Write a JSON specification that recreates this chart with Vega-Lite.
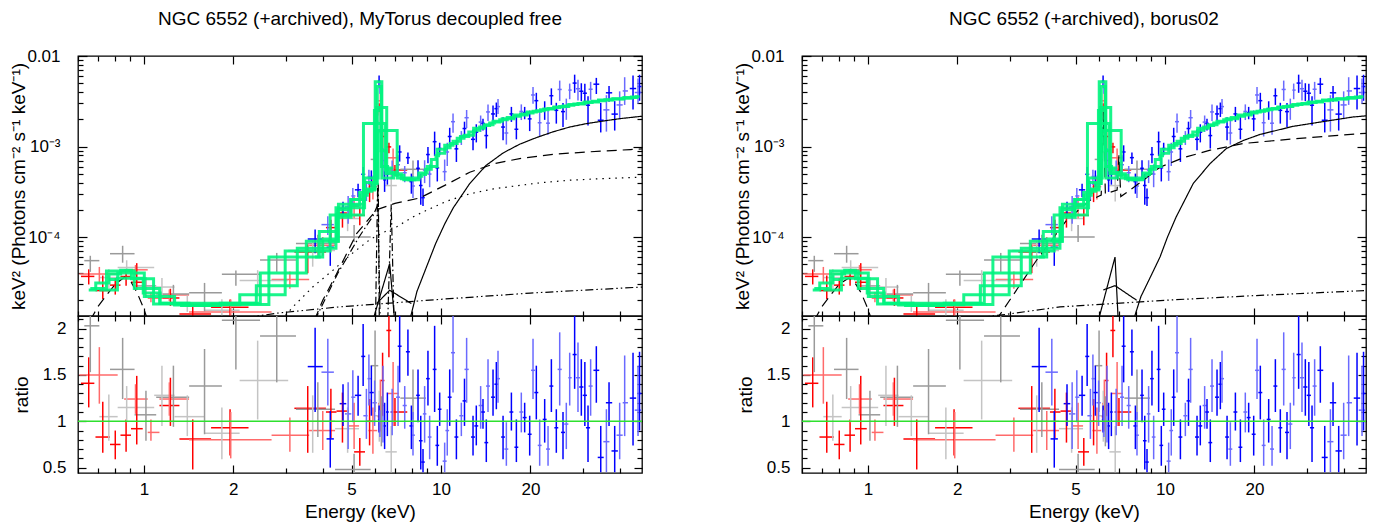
{
  "$schema": "https://vega.github.io/schema/vega-lite/v6.json",
  "autosize": {"type": "none"},
  "padding": {"left": 78, "top": 56, "right": 1298, "bottom": 471},
  "background": "white",
  "config": {
    "view": {"stroke": "#000", "strokeWidth": 1.3},
    "axis": {"grid": false, "domain": false, "tickColor": "#000", "tickWidth": 1.2, "labelFont": "Liberation Sans", "labelFontSize": 17, "labelColor": "#000", "titleFont": "Liberation Sans", "titleFontSize": 19, "titleFontWeight": "normal", "titleColor": "#000"},
    "title": {"font": "Liberation Sans", "fontSize": 19, "fontWeight": "normal", "color": "#000"}
  },
  "datasets": {
    "pts": [
      {"s":"R1","e":0.652,"el":0.614,"eh":0.681,"f":3.67e-5,"fl":2.99e-5,"fh":4.39e-5,"r":1.41,"rl":1.15,"rh":1.69,"m":2.6e-5},
      {"s":"R1","e":0.727,"el":0.687,"eh":0.769,"f":2.56e-5,"fl":2.06e-5,"fh":3.75e-5,"r":0.83,"rl":0.66,"rh":1.21,"m":3.1e-5},
      {"s":"R1","e":0.801,"el":0.769,"eh":0.834,"f":2.94e-5,"fl":2.31e-5,"fh":3.5e-5,"r":0.75,"rl":0.59,"rh":0.9,"m":3.9e-5},
      {"s":"R1","e":0.871,"el":0.834,"eh":0.905,"f":3.66e-5,"fl":2.89e-5,"fh":4.4e-5,"r":0.85,"rl":0.67,"rh":1.02,"m":4.3e-5},
      {"s":"R1","e":0.946,"el":0.905,"eh":0.991,"f":3.16e-5,"fl":2.6e-5,"fh":5.14e-5,"r":0.92,"rl":0.75,"rh":1.49,"m":3.45e-5},
      {"s":"R1","e":1.228,"el":1.128,"eh":1.317,"f":2.12e-5,"fl":1.73e-5,"fh":2.68e-5,"r":1.17,"rl":0.95,"rh":1.47,"m":1.82e-5},
      {"s":"R1","e":1.46,"el":1.317,"eh":1.683,"f":1.41e-5,"fl":8.5e-6,"fh":1.79e-5,"r":0.81,"rl":0.48,"rh":1.02,"m":1.75e-5},
      {"s":"R1","e":1.95,"el":1.683,"eh":2.25,"f":1.67e-5,"fl":1.13e-5,"fh":2.04e-5,"r":0.93,"rl":0.63,"rh":1.13,"m":1.8e-5},
      {"s":"R1","e":3.56,"el":3.21,"eh":4.1,"f":6.83e-5,"fl":3.98e-5,"fh":8.3e-5,"r":1.14,"rl":0.66,"rh":1.38,"m":6e-5},
      {"s":"R1","e":4.26,"el":4.1,"eh":4.45,"f":1.27e-4,"fl":9.4e-5,"fh":1.55e-4,"r":1.1,"rl":0.82,"rh":1.35,"m":1.15e-4},
      {"s":"R1","e":4.66,"el":4.45,"eh":4.9,"f":1.84e-4,"fl":1.27e-4,"fh":2.16e-4,"r":1.11,"rl":0.77,"rh":1.31,"m":1.65e-4},
      {"s":"R1","e":5.33,"el":5.1,"eh":5.55,"f":1.74e-4,"fl":1.35e-4,"fh":2.12e-4,"r":0.67,"rl":0.52,"rh":0.82,"m":2.6e-4},
      {"s":"R1","e":5.75,"el":5.6,"eh":5.9,"f":3.3e-4,"fl":2.43e-4,"fh":4.1e-4,"r":1.0,"rl":0.74,"rh":1.24,"m":3.3e-4},
      {"s":"R1","e":6.2,"el":6.12,"eh":6.28,"f":2.6e-3,"fl":2.2e-3,"fh":3.0e-3,"r":1.05,"rl":0.9,"rh":1.2,"m":2.5e-3},
      {"s":"R1","e":6.36,"el":6.28,"eh":6.45,"f":1.29e-3,"fl":9.5e-4,"fh":1.57e-3,"r":1.44,"rl":1.06,"rh":1.74,"m":9e-4},
      {"s":"R1","e":6.68,"el":6.55,"eh":6.8,"f":9.9e-4,"fl":8.4e-4,"fh":1.1e-3,"r":1.98,"rl":1.69,"rh":2.2,"m":5e-4},
      {"s":"R1","e":7.0,"el":6.8,"eh":7.7,"f":5.5e-4,"fl":4.75e-4,"fh":6.25e-4,"r":1.1,"rl":0.95,"rh":1.25,"m":5e-4},
      {"s":"R2","e":0.708,"el":0.606,"eh":0.816,"f":3.9e-5,"fl":3.08e-5,"fh":4.67e-5,"r":1.5,"rl":1.19,"rh":1.8,"m":2.6e-5},
      {"s":"R2","e":0.937,"el":0.858,"eh":1.03,"f":4.34e-5,"fl":3.78e-5,"fh":4.9e-5,"r":1.24,"rl":1.08,"rh":1.4,"m":3.5e-5},
      {"s":"R2","e":1.056,"el":1.03,"eh":1.128,"f":2.11e-5,"fl":1.9e-5,"fh":2.46e-5,"r":0.88,"rl":0.79,"rh":1.02,"m":2.4e-5},
      {"s":"R2","e":1.218,"el":1.128,"eh":1.419,"f":2.29e-5,"fl":1.96e-5,"fh":2.63e-5,"r":1.24,"rl":1.06,"rh":1.42,"m":1.85e-5},
      {"s":"R2","e":1.96,"el":1.419,"eh":2.69,"f":1.48e-5,"fl":1.11e-5,"fh":2.04e-5,"r":0.8,"rl":0.6,"rh":1.1,"m":1.85e-5},
      {"s":"R2","e":3.1,"el":2.69,"eh":3.6,"f":3.4e-5,"fl":2.68e-5,"fh":4.16e-5,"r":0.85,"rl":0.67,"rh":1.04,"m":4e-5},
      {"s":"R2","e":4.0,"el":3.6,"eh":4.4,"f":8.1e-5,"fl":6.2e-5,"fh":1.0e-4,"r":0.9,"rl":0.69,"rh":1.11,"m":9e-5},
      {"s":"R2","e":5.1,"el":4.9,"eh":5.3,"f":2.19e-4,"fl":1.61e-4,"fh":2.76e-4,"r":0.95,"rl":0.7,"rh":1.2,"m":2.3e-4},
      {"s":"R2","e":5.9,"el":5.7,"eh":6.1,"f":3.6e-4,"fl":2.6e-4,"fh":4.6e-4,"r":0.9,"rl":0.65,"rh":1.15,"m":4e-4},
      {"s":"R2","e":6.25,"el":6.15,"eh":6.35,"f":3.2e-3,"fl":2.4e-3,"fh":3.9e-3,"r":1.19,"rl":0.89,"rh":1.45,"m":2.7e-3},
      {"s":"R2","e":6.9,"el":6.6,"eh":7.2,"f":7.5e-4,"fl":5.5e-4,"fh":9.5e-4,"r":1.3,"rl":0.95,"rh":1.64,"m":5.8e-4},
      {"s":"G1","e":0.66,"el":0.63,"eh":0.708,"f":5.48e-5,"fl":4.12e-5,"fh":6.2e-5,"r":2.03,"rl":1.53,"rh":2.3,"m":2.7e-5},
      {"s":"G1","e":0.848,"el":0.769,"eh":0.93,"f":6.54e-5,"fl":5.2e-5,"fh":8.0e-5,"r":1.56,"rl":1.24,"rh":1.9,"m":4.2e-5},
      {"s":"G1","e":1.016,"el":0.93,"eh":1.1,"f":2.88e-5,"fl":2.13e-5,"fh":3.59e-5,"r":1.07,"rl":0.79,"rh":1.33,"m":2.7e-5},
      {"s":"G1","e":1.257,"el":1.1,"eh":1.42,"f":2.34e-5,"fl":1.74e-5,"fh":2.96e-5,"r":1.26,"rl":0.94,"rh":1.6,"m":1.85e-5},
      {"s":"G1","e":1.6,"el":1.42,"eh":1.83,"f":2.42e-5,"fl":1.51e-5,"fh":3.11e-5,"r":1.38,"rl":0.86,"rh":1.78,"m":1.75e-5},
      {"s":"G1","e":2.04,"el":1.83,"eh":2.46,"f":3.87e-5,"fl":2.89e-5,"fh":4.26e-5,"r":2.09,"rl":1.56,"rh":2.3,"m":1.85e-5},
      {"s":"G1","e":2.8,"el":2.46,"eh":3.25,"f":5.57e-5,"fl":4.12e-5,"fh":6.67e-5,"r":1.92,"rl":1.42,"rh":2.3,"m":2.9e-5},
      {"s":"G1","e":3.85,"el":3.25,"eh":4.4,"f":8.5e-5,"fl":6.2e-5,"fh":1.06e-4,"r":1.13,"rl":0.83,"rh":1.42,"m":7.5e-5},
      {"s":"G1","e":5.1,"el":4.4,"eh":5.8,"f":1.0e-4,"fl":8.8e-5,"fh":1.36e-4,"r":0.48,"rl":0.42,"rh":0.65,"m":2.1e-4},
      {"s":"G1","e":6.0,"el":5.8,"eh":6.15,"f":7.2e-4,"fl":4.9e-4,"fh":8.9e-4,"r":1.6,"rl":1.1,"rh":1.98,"m":4.5e-4},
      {"s":"G1","e":6.3,"el":6.15,"eh":6.5,"f":1.5e-3,"fl":1.1e-3,"fh":1.9e-3,"r":1.0,"rl":0.73,"rh":1.27,"m":1.5e-3},
      {"s":"G1","e":8.05,"el":7.3,"eh":8.9,"f":5.6e-4,"fl":4.6e-4,"fh":7.0e-4,"r":1.25,"rl":1.02,"rh":1.56,"m":4.5e-4},
      {"s":"G2","e":0.762,"el":0.708,"eh":0.816,"f":3.56e-5,"fl":2.69e-5,"fh":4.4e-5,"r":1.05,"rl":0.79,"rh":1.29,"m":3.4e-5},
      {"s":"G2","e":0.875,"el":0.816,"eh":1.083,"f":4.6e-5,"fl":3.95e-5,"fh":5.53e-5,"r":1.15,"rl":0.99,"rh":1.38,"m":4.0e-5},
      {"s":"G2","e":1.15,"el":1.083,"eh":1.268,"f":2.8e-5,"fl":2.09e-5,"fh":3.52e-5,"r":1.28,"rl":0.95,"rh":1.6,"m":2.2e-5},
      {"s":"G2","e":1.4,"el":1.268,"eh":1.6,"f":1.86e-5,"fl":1.49e-5,"fh":2.26e-5,"r":1.05,"rl":0.84,"rh":1.28,"m":1.77e-5},
      {"s":"G2","e":1.83,"el":1.6,"eh":2.1,"f":1.55e-5,"fl":1.05e-5,"fh":2.05e-5,"r":0.87,"rl":0.59,"rh":1.15,"m":1.78e-5},
      {"s":"G2","e":2.415,"el":2.1,"eh":3.06,"f":3.31e-5,"fl":2.35e-5,"fh":4.3e-5,"r":1.44,"rl":1.02,"rh":1.87,"m":2.3e-5},
      {"s":"G2","e":3.7,"el":3.06,"eh":4.4,"f":7.1e-5,"fl":4.7e-5,"fh":9.1e-5,"r":1.0,"rl":0.66,"rh":1.28,"m":7e-5},
      {"s":"G2","e":4.85,"el":4.4,"eh":5.3,"f":1.6e-4,"fl":1.16e-4,"fh":2.0e-4,"r":0.92,"rl":0.66,"rh":1.15,"m":1.75e-4},
      {"s":"G2","e":6.2,"el":6.0,"eh":6.4,"f":1.9e-3,"fl":1.4e-3,"fh":2.4e-3,"r":1.06,"rl":0.78,"rh":1.33,"m":1.8e-3},
      {"s":"G2","e":6.8,"el":6.5,"eh":7.1,"f":3.7e-4,"fl":2.46e-4,"fh":5.2e-4,"r":0.67,"rl":0.45,"rh":0.95,"m":5.5e-4},
      {"s":"B1","e":3.77,"el":3.56,"eh":4.0,"f":9.5e-5,"fl":6.6e-5,"fh":1.21e-4,"r":1.59,"rl":1.1,"rh":2.01,"m":6e-5},
      {"s":"B1","e":4.24,"el":4.12,"eh":4.36,"f":7.7e-5,"fl":4.8e-5,"fh":1.06e-4,"r":0.81,"rl":0.5,"rh":1.11,"m":9.5e-5},
      {"s":"B1","e":4.68,"el":4.56,"eh":4.8,"f":2.07e-4,"fl":1.66e-4,"fh":2.45e-4,"r":1.19,"rl":0.95,"rh":1.4,"m":1.75e-4},
      {"s":"B1","e":5.26,"el":5.13,"eh":5.39,"f":3.32e-4,"fl":2.75e-4,"fh":3.88e-4,"r":1.28,"rl":1.06,"rh":1.49,"m":2.6e-4},
      {"s":"B1","e":5.47,"el":5.39,"eh":5.56,"f":4.93e-4,"fl":4.01e-4,"fh":5.94e-4,"r":1.7,"rl":1.38,"rh":2.05,"m":2.9e-4},
      {"s":"B1","e":5.83,"el":5.72,"eh":5.94,"f":4.46e-4,"fl":3.6e-4,"fh":5.44e-4,"r":1.31,"rl":1.06,"rh":1.6,"m":3.4e-4},
      {"s":"B1","e":6.19,"el":6.13,"eh":6.25,"f":5.3e-3,"fl":4.58e-3,"fh":6.08e-3,"r":1.02,"rl":0.88,"rh":1.17,"m":5.2e-3},
      {"s":"B1","e":6.46,"el":6.39,"eh":6.53,"f":4.28e-4,"fl":3.15e-4,"fh":5.41e-4,"r":0.95,"rl":0.7,"rh":1.2,"m":4.5e-4},
      {"s":"B1","e":6.6,"el":6.53,"eh":6.67,"f":4.93e-4,"fl":3.79e-4,"fh":5.9e-4,"r":1.1,"rl":0.84,"rh":1.31,"m":4.5e-4},
      {"s":"B1","e":7.26,"el":7.15,"eh":7.37,"f":8.7e-4,"fl":6.81e-4,"fh":1.03e-3,"r":1.81,"rl":1.42,"rh":2.14,"m":4.8e-4},
      {"s":"B1","e":7.74,"el":7.62,"eh":7.86,"f":7.53e-4,"fl":6.41e-4,"fh":8.57e-4,"r":1.75,"rl":1.49,"rh":1.99,"m":4.3e-4},
      {"s":"B1","e":7.95,"el":7.83,"eh":8.07,"f":4.09e-4,"fl":3.01e-4,"fh":5.02e-4,"r":0.95,"rl":0.7,"rh":1.17,"m":4.3e-4},
      {"s":"B1","e":8.37,"el":8.25,"eh":8.49,"f":5.74e-4,"fl":4.44e-4,"fh":7.03e-4,"r":1.28,"rl":0.99,"rh":1.56,"m":4.5e-4},
      {"s":"B1","e":8.55,"el":8.43,"eh":8.67,"f":3.71e-4,"fl":2.27e-4,"fh":4.98e-4,"r":0.79,"rl":0.48,"rh":1.06,"m":4.7e-4},
      {"s":"B1","e":8.7,"el":8.58,"eh":8.82,"f":2.72e-4,"fl":2.2e-4,"fh":3.43e-4,"r":0.56,"rl":0.45,"rh":0.7,"m":4.9e-4},
      {"s":"B1","e":9.04,"el":8.91,"eh":9.17,"f":8.15e-4,"fl":6.54e-4,"fh":9.86e-4,"r":1.46,"rl":1.17,"rh":1.76,"m":5.6e-4},
      {"s":"B1","e":9.52,"el":9.38,"eh":9.66,"f":1.13e-3,"fl":7.88e-4,"fh":1.46e-3,"r":1.56,"rl":1.1,"rh":2.03,"m":7.2e-4},
      {"s":"B1","e":9.72,"el":9.58,"eh":9.86,"f":5.81e-4,"fl":4.11e-4,"fh":7.51e-4,"r":0.74,"rl":0.52,"rh":0.95,"m":7.9e-4},
      {"s":"B1","e":9.9,"el":9.76,"eh":10.04,"f":9.5e-4,"fl":7.99e-4,"fh":1.1e-3,"r":1.13,"rl":0.95,"rh":1.31,"m":8.4e-4},
      {"s":"B1","e":10.7,"el":10.54,"eh":10.86,"f":1.29e-3,"fl":9.8e-4,"fh":1.61e-3,"r":1.26,"rl":0.95,"rh":1.56,"m":1.03e-3},
      {"s":"B1","e":11.27,"el":11.1,"eh":11.44,"f":9.42e-4,"fl":6.75e-4,"fh":1.17e-3,"r":0.83,"rl":0.59,"rh":1.02,"m":1.14e-3},
      {"s":"B1","e":12.0,"el":11.82,"eh":12.18,"f":1.58e-3,"fl":1.23e-3,"fh":1.88e-3,"r":1.22,"rl":0.95,"rh":1.46,"m":1.29e-3},
      {"s":"B1","e":12.82,"el":12.62,"eh":13.02,"f":1.2e-3,"fl":9.1e-4,"fh":1.54e-3,"r":0.83,"rl":0.63,"rh":1.06,"m":1.45e-3},
      {"s":"B1","e":13.15,"el":12.95,"eh":13.35,"f":1.44e-3,"fl":1.11e-3,"fh":1.76e-3,"r":0.95,"rl":0.74,"rh":1.17,"m":1.51e-3},
      {"s":"B1","e":13.85,"el":13.64,"eh":14.06,"f":1.8e-3,"fl":1.5e-3,"fh":2.03e-3,"r":1.1,"rl":0.92,"rh":1.24,"m":1.64e-3},
      {"s":"B1","e":14.21,"el":14.0,"eh":14.42,"f":1.32e-3,"fl":9.5e-4,"fh":1.75e-3,"r":0.77,"rl":0.56,"rh":1.02,"m":1.71e-3},
      {"s":"B1","e":14.97,"el":14.74,"eh":15.2,"f":2.29e-3,"fl":1.93e-3,"fh":2.84e-3,"r":1.26,"rl":1.06,"rh":1.56,"m":1.82e-3},
      {"s":"B1","e":15.36,"el":15.13,"eh":15.59,"f":2.62e-3,"fl":2.12e-3,"fh":3.06e-3,"r":1.4,"rl":1.13,"rh":1.64,"m":1.87e-3},
      {"s":"B1","e":16.18,"el":15.94,"eh":16.42,"f":1.64e-3,"fl":1.17e-3,"fh":2.1e-3,"r":0.83,"rl":0.59,"rh":1.06,"m":1.98e-3},
      {"s":"B1","e":17.26,"el":17.0,"eh":17.52,"f":2.29e-3,"fl":1.87e-3,"fh":2.74e-3,"r":1.1,"rl":0.9,"rh":1.31,"m":2.09e-3},
      {"s":"B1","e":17.94,"el":17.67,"eh":18.21,"f":1.55e-3,"fl":1.2e-3,"fh":2.21e-3,"r":0.72,"rl":0.56,"rh":1.02,"m":2.16e-3},
      {"s":"B1","e":19.13,"el":18.84,"eh":19.42,"f":2.37e-3,"fl":2.0e-3,"fh":2.74e-3,"r":1.04,"rl":0.88,"rh":1.2,"m":2.28e-3},
      {"s":"B1","e":19.89,"el":19.59,"eh":20.19,"f":2.02e-3,"fl":1.48e-3,"fh":2.49e-3,"r":0.86,"rl":0.63,"rh":1.06,"m":2.35e-3},
      {"s":"B1","e":20.94,"el":20.62,"eh":21.26,"f":3.21e-3,"fl":2.51e-3,"fh":3.92e-3,"r":1.31,"rl":1.02,"rh":1.6,"m":2.45e-3},
      {"s":"B1","e":22.34,"el":22.0,"eh":22.68,"f":2.61e-3,"fl":1.97e-3,"fh":3.16e-3,"r":1.02,"rl":0.77,"rh":1.24,"m":2.55e-3},
      {"s":"B1","e":23.53,"el":23.17,"eh":23.89,"f":3.64e-3,"fl":2.88e-3,"fh":4.39e-3,"r":1.38,"rl":1.1,"rh":1.67,"m":2.63e-3},
      {"s":"B1","e":24.45,"el":24.08,"eh":24.82,"f":2.51e-3,"fl":1.79e-3,"fh":3.04e-3,"r":0.93,"rl":0.66,"rh":1.13,"m":2.69e-3},
      {"s":"B1","e":25.75,"el":25.35,"eh":26.15,"f":2.43e-3,"fl":1.64e-3,"fh":3.03e-3,"r":0.88,"rl":0.59,"rh":1.1,"m":2.77e-3},
      {"s":"B1","e":28.18,"el":27.74,"eh":28.62,"f":5.02e-3,"fl":3.92e-3,"fh":6.22e-3,"r":1.72,"rl":1.35,"rh":2.14,"m":2.91e-3},
      {"s":"B1","e":29.68,"el":29.2,"eh":30.16,"f":4.08e-3,"fl":3.17e-3,"fh":5.0e-3,"r":1.37,"rl":1.06,"rh":1.67,"m":2.99e-3},
      {"s":"B1","e":30.5,"el":30.0,"eh":31.0,"f":3.88e-3,"fl":2.88e-3,"fh":4.95e-3,"r":1.28,"rl":0.95,"rh":1.64,"m":3.03e-3},
      {"s":"B1","e":31.26,"el":30.76,"eh":31.76,"f":2.86e-3,"fl":1.71e-3,"fh":3.58e-3,"r":0.93,"rl":0.56,"rh":1.17,"m":3.07e-3},
      {"s":"B1","e":33.34,"el":32.6,"eh":34.1,"f":4.88e-3,"fl":3.8e-3,"fh":5.73e-3,"r":1.55,"rl":1.2,"rh":1.81,"m":3.16e-3},
      {"s":"B1","e":34.5,"el":33.7,"eh":35.3,"f":1.95e-3,"fl":1.43e-3,"fh":3.04e-3,"r":0.61,"rl":0.45,"rh":0.95,"m":3.2e-3},
      {"s":"B1","e":36.79,"el":35.9,"eh":37.7,"f":3.92e-3,"fl":3.12e-3,"fh":4.65e-3,"r":1.2,"rl":0.95,"rh":1.42,"m":3.28e-3},
      {"s":"B1","e":38.44,"el":37.5,"eh":39.4,"f":2.28e-3,"fl":1.5e-3,"fh":3.18e-3,"r":0.68,"rl":0.45,"rh":0.95,"m":3.34e-3},
      {"s":"B1","e":44.31,"el":43.2,"eh":45.4,"f":4.37e-3,"fl":2.57e-3,"fh":6.08e-3,"r":1.25,"rl":0.74,"rh":1.74,"m":3.49e-3},
      {"s":"B1","e":46.6,"el":45.9,"eh":47.3,"f":4.6e-3,"fl":3.2e-3,"fh":6.2e-3,"r":1.3,"rl":0.9,"rh":1.75,"m":3.55e-3},
      {"s":"B2","e":4.16,"el":3.96,"eh":4.36,"f":1.37e-4,"fl":1.05e-4,"fh":1.7e-4,"r":1.53,"rl":1.17,"rh":1.89,"m":9e-5},
      {"s":"B2","e":4.87,"el":4.75,"eh":4.99,"f":2.15e-4,"fl":1.4e-4,"fh":2.84e-4,"r":1.08,"rl":0.7,"rh":1.42,"m":2.0e-4},
      {"s":"B2","e":5.05,"el":4.99,"eh":5.15,"f":2.84e-4,"fl":2.22e-4,"fh":3.48e-4,"r":1.26,"rl":0.99,"rh":1.55,"m":2.25e-4},
      {"s":"B2","e":5.61,"el":5.48,"eh":5.66,"f":3.28e-4,"fl":2.5e-4,"fh":4.18e-4,"r":1.06,"rl":0.81,"rh":1.35,"m":3.1e-4},
      {"s":"B2","e":5.72,"el":5.66,"eh":5.8,"f":4.66e-4,"fl":3.73e-4,"fh":5.52e-4,"r":1.46,"rl":1.17,"rh":1.72,"m":3.2e-4},
      {"s":"B2","e":5.98,"el":5.88,"eh":6.08,"f":4.69e-4,"fl":3.71e-4,"fh":5.6e-4,"r":1.2,"rl":0.95,"rh":1.44,"m":3.9e-4},
      {"s":"B2","e":6.23,"el":6.17,"eh":6.29,"f":4.46e-3,"fl":3.82e-3,"fh":5.15e-3,"r":0.97,"rl":0.83,"rh":1.12,"m":4.6e-3},
      {"s":"B2","e":6.38,"el":6.31,"eh":6.45,"f":7.0e-4,"fl":4.63e-4,"fh":9.6e-4,"r":1.17,"rl":0.77,"rh":1.6,"m":6e-4},
      {"s":"B2","e":6.85,"el":6.75,"eh":6.95,"f":5.72e-4,"fl":4.42e-4,"fh":7.02e-4,"r":1.1,"rl":0.85,"rh":1.35,"m":5.2e-4},
      {"s":"B2","e":7.17,"el":7.06,"eh":7.28,"f":6.29e-4,"fl":4.76e-4,"fh":8.0e-4,"r":1.26,"rl":0.95,"rh":1.6,"m":5.0e-4},
      {"s":"B2","e":7.55,"el":7.43,"eh":7.67,"f":5.13e-4,"fl":4.03e-4,"fh":6.09e-4,"r":1.17,"rl":0.92,"rh":1.38,"m":4.4e-4},
      {"s":"B2","e":8.05,"el":7.93,"eh":8.17,"f":3.66e-4,"fl":2.7e-4,"fh":4.71e-4,"r":0.85,"rl":0.63,"rh":1.1,"m":4.3e-4},
      {"s":"B2","e":8.81,"el":8.69,"eh":8.93,"f":5.49e-4,"fl":3.94e-4,"fh":7.05e-4,"r":1.08,"rl":0.77,"rh":1.38,"m":5.1e-4},
      {"s":"B2","e":9.16,"el":9.03,"eh":9.29,"f":4.96e-4,"fl":3.55e-4,"fh":6.35e-4,"r":0.83,"rl":0.59,"rh":1.06,"m":6.0e-4},
      {"s":"B2","e":10.29,"el":10.13,"eh":10.45,"f":5.27e-4,"fl":4.17e-4,"fh":7.18e-4,"r":0.57,"rl":0.45,"rh":0.77,"m":9.3e-4},
      {"s":"B2","e":10.5,"el":10.35,"eh":10.65,"f":8.7e-4,"fl":6.09e-4,"fh":1.1e-3,"r":0.9,"rl":0.63,"rh":1.13,"m":9.7e-4},
      {"s":"B2","e":10.98,"el":10.81,"eh":11.15,"f":1.88e-3,"fl":1.42e-3,"fh":2.31e-3,"r":1.74,"rl":1.31,"rh":2.14,"m":1.08e-3},
      {"s":"B2","e":11.71,"el":11.53,"eh":11.89,"f":1.3e-3,"fl":1.04e-3,"fh":1.48e-3,"r":1.06,"rl":0.84,"rh":1.2,"m":1.23e-3},
      {"s":"B2","e":12.2,"el":12.0,"eh":12.4,"f":2.08e-3,"fl":1.6e-3,"fh":2.53e-3,"r":1.56,"rl":1.2,"rh":1.9,"m":1.33e-3},
      {"s":"B2","e":13.6,"el":13.39,"eh":13.81,"f":1.86e-3,"fl":1.45e-3,"fh":2.2e-3,"r":1.17,"rl":0.92,"rh":1.38,"m":1.59e-3},
      {"s":"B2","e":14.4,"el":14.18,"eh":14.62,"f":2.41e-3,"fl":1.91e-3,"fh":2.91e-3,"r":1.38,"rl":1.1,"rh":1.67,"m":1.74e-3},
      {"s":"B2","e":15.56,"el":15.32,"eh":15.8,"f":2.76e-3,"fl":2.29e-3,"fh":3.34e-3,"r":1.46,"rl":1.2,"rh":1.76,"m":1.9e-3},
      {"s":"B2","e":16.6,"el":16.35,"eh":16.85,"f":1.41e-3,"fl":1.05e-3,"fh":1.99e-3,"r":0.7,"rl":0.52,"rh":0.99,"m":2.02e-3},
      {"s":"B2","e":18.64,"el":18.36,"eh":18.92,"f":2.44e-3,"fl":1.96e-3,"fh":2.92e-3,"r":1.1,"rl":0.88,"rh":1.31,"m":2.23e-3},
      {"s":"B2","e":20.41,"el":20.1,"eh":20.72,"f":3.71e-3,"fl":2.97e-3,"fh":4.53e-3,"r":1.55,"rl":1.24,"rh":1.89,"m":2.4e-3},
      {"s":"B2","e":21.49,"el":21.17,"eh":21.81,"f":1.83e-3,"fl":1.29e-3,"fh":2.55e-3,"r":0.74,"rl":0.52,"rh":1.02,"m":2.49e-3},
      {"s":"B2","e":22.93,"el":22.58,"eh":23.28,"f":1.81e-3,"fl":1.35e-3,"fh":2.46e-3,"r":0.7,"rl":0.52,"rh":0.95,"m":2.59e-3},
      {"s":"B2","e":25.1,"el":24.7,"eh":25.5,"f":4.27e-3,"fl":3.19e-3,"fh":5.35e-3,"r":1.56,"rl":1.17,"rh":1.96,"m":2.73e-3},
      {"s":"B2","e":26.42,"el":26.0,"eh":26.84,"f":2.72e-3,"fl":1.97e-3,"fh":3.38e-3,"r":0.97,"rl":0.7,"rh":1.2,"m":2.81e-3},
      {"s":"B2","e":27.12,"el":26.84,"eh":27.54,"f":4.2e-3,"fl":3.33e-3,"fh":4.96e-3,"r":1.47,"rl":1.17,"rh":1.74,"m":2.85e-3},
      {"s":"B2","e":28.92,"el":28.47,"eh":29.37,"f":4.35e-3,"fl":3.23e-3,"fh":5.46e-3,"r":1.47,"rl":1.1,"rh":1.85,"m":2.95e-3},
      {"s":"B2","e":31.9,"el":31.4,"eh":32.4,"f":4.29e-3,"fl":3.28e-3,"fh":5.18e-3,"r":1.38,"rl":1.06,"rh":1.67,"m":3.1e-3},
      {"s":"B2","e":36.05,"el":35.2,"eh":36.9,"f":2.54e-3,"fl":1.46e-3,"fh":3.69e-3,"r":0.78,"rl":0.45,"rh":1.13,"m":3.26e-3},
      {"s":"B2","e":39.95,"el":39.0,"eh":40.9,"f":2.88e-3,"fl":2.0e-3,"fh":4.07e-3,"r":0.85,"rl":0.59,"rh":1.2,"m":3.38e-3},
      {"s":"B2","e":41.53,"el":40.9,"eh":42.6,"f":4.11e-3,"fl":2.88e-3,"fh":5.83e-3,"r":1.2,"rl":0.84,"rh":1.71,"m":3.42e-3},
      {"s":"B2","e":46.06,"el":44.9,"eh":47.3,"f":3.95e-3,"fl":2.98e-3,"fh":5.64e-3,"r":1.12,"rl":0.84,"rh":1.6,"m":3.53e-3}
    ],
    "comp": [
      {"p":"L","c":"soft","st":"dash","e":0.66,"v":1.2e-5},{"p":"L","c":"soft","st":"dash","e":0.7,"v":1.7e-5},{"p":"L","c":"soft","st":"dash","e":0.75,"v":2.3e-5},{"p":"L","c":"soft","st":"dash","e":0.8,"v":3.0e-5},{"p":"L","c":"soft","st":"dash","e":0.86,"v":3.6e-5},{"p":"L","c":"soft","st":"dash","e":0.9,"v":3.3e-5},{"p":"L","c":"soft","st":"dash","e":0.95,"v":2.4e-5},{"p":"L","c":"soft","st":"dash","e":1.0,"v":1.6e-5},{"p":"L","c":"soft","st":"dash","e":1.03,"v":1.2e-5},
      {"p":"L","c":"scat","st":"dash","e":3.75,"v":1.2e-5},{"p":"L","c":"scat","st":"dash","e":4.0,"v":2.0e-5},{"p":"L","c":"scat","st":"dash","e":4.45,"v":3.9e-5},{"p":"L","c":"scat","st":"dash","e":5.2,"v":1.09e-4},{"p":"L","c":"scat","st":"dash","e":6.07,"v":2.0e-4},{"p":"L","c":"scat","st":"dash","e":7.0,"v":2.35e-4},{"p":"L","c":"scat","st":"dash","e":8.48,"v":2.7e-4},{"p":"L","c":"scat","st":"dash","e":10.3,"v":3.72e-4},{"p":"L","c":"scat","st":"dash","e":12.5,"v":5.2e-4},{"p":"L","c":"scat","st":"dash","e":15.2,"v":6.5e-4},{"p":"L","c":"scat","st":"dash","e":18.4,"v":7.35e-4},{"p":"L","c":"scat","st":"dash","e":23.8,"v":8.2e-4},{"p":"L","c":"scat","st":"dash","e":30.9,"v":8.7e-4},{"p":"L","c":"scat","st":"dash","e":43.4,"v":9.25e-4},{"p":"L","c":"scat","st":"dash","e":47.5,"v":9.4e-4},
      {"p":"L","c":"dot","st":"dot","e":2.9,"v":1.2e-5},{"p":"L","c":"dot","st":"dot","e":3.18,"v":1.7e-5},{"p":"L","c":"dot","st":"dot","e":3.7,"v":2.8e-5},{"p":"L","c":"dot","st":"dot","e":4.33,"v":4.3e-5},{"p":"L","c":"dot","st":"dot","e":5.0,"v":6.5e-5},{"p":"L","c":"dot","st":"dot","e":5.8,"v":9.5e-5},{"p":"L","c":"dot","st":"dot","e":6.5,"v":1.15e-4},{"p":"L","c":"dot","st":"dot","e":7.08,"v":1.29e-4},{"p":"L","c":"dot","st":"dot","e":8.0,"v":1.65e-4},{"p":"L","c":"dot","st":"dot","e":8.93,"v":1.97e-4},{"p":"L","c":"dot","st":"dot","e":10.5,"v":2.5e-4},{"p":"L","c":"dot","st":"dot","e":12.5,"v":3.0e-4},{"p":"L","c":"dot","st":"dot","e":15,"v":3.4e-4},{"p":"L","c":"dot","st":"dot","e":18.4,"v":3.72e-4},{"p":"L","c":"dot","st":"dot","e":22,"v":4.0e-4},{"p":"L","c":"dot","st":"dot","e":27.1,"v":4.24e-4},{"p":"L","c":"dot","st":"dot","e":35,"v":4.42e-4},{"p":"L","c":"dot","st":"dot","e":47.5,"v":4.58e-4},
      {"p":"L","c":"trans","st":"solid","e":7.85,"v":1.2e-5},{"p":"L","c":"trans","st":"solid","e":8.3,"v":2.5e-5},{"p":"L","c":"trans","st":"solid","e":8.9,"v":4.5e-5},{"p":"L","c":"trans","st":"solid","e":9.6,"v":8.5e-5},{"p":"L","c":"trans","st":"solid","e":10.3,"v":1.4e-4},{"p":"L","c":"trans","st":"solid","e":11,"v":2.1e-4},{"p":"L","c":"trans","st":"solid","e":12.5,"v":3.9e-4},{"p":"L","c":"trans","st":"solid","e":14.2,"v":6.2e-4},{"p":"L","c":"trans","st":"solid","e":16.2,"v":8.5e-4},{"p":"L","c":"trans","st":"solid","e":18.4,"v":1.06e-3},{"p":"L","c":"trans","st":"solid","e":20.9,"v":1.25e-3},{"p":"L","c":"trans","st":"solid","e":23.8,"v":1.45e-3},{"p":"L","c":"trans","st":"solid","e":27.1,"v":1.64e-3},{"p":"L","c":"trans","st":"solid","e":30.9,"v":1.79e-3},{"p":"L","c":"trans","st":"solid","e":35.1,"v":1.91e-3},{"p":"L","c":"trans","st":"solid","e":40,"v":2.03e-3},{"p":"L","c":"trans","st":"solid","e":47.5,"v":2.16e-3},
      {"p":"L","c":"spl","st":"dashdotdot","e":1.9,"v":1.2e-5},{"p":"L","c":"spl","st":"dashdotdot","e":2.86,"v":1.45e-5},{"p":"L","c":"spl","st":"dashdotdot","e":4.55,"v":1.69e-5},{"p":"L","c":"spl","st":"dashdotdot","e":10,"v":2.05e-5},{"p":"L","c":"spl","st":"dashdotdot","e":20,"v":2.4e-5},{"p":"L","c":"spl","st":"dashdotdot","e":47.5,"v":2.8e-5},
      {"p":"L","c":"fe1","st":"dashdot","e":3.76,"v":1.2e-5},{"p":"L","c":"fe1","st":"dashdot","e":4.5,"v":4.0e-5},{"p":"L","c":"fe1","st":"dashdot","e":5.3,"v":1.0e-4},{"p":"L","c":"fe1","st":"dashdot","e":5.9,"v":1.7e-4},{"p":"L","c":"fe1","st":"dashdot","e":6.1,"v":2.2e-4},{"p":"L","c":"fe1","st":"dashdot","e":6.15,"v":4.0e-4},{"p":"L","c":"fe1","st":"dashdot","e":6.2,"v":1.2e-5},
      {"p":"L","c":"fe2","st":"dashdot","e":6.02,"v":1.2e-5},{"p":"L","c":"fe2","st":"dashdot","e":6.12,"v":3.6e-4},{"p":"L","c":"fe2","st":"dashdot","e":6.24,"v":1.2e-5},
      {"p":"L","c":"fe3","st":"dashdot","e":6.62,"v":1.2e-5},{"p":"L","c":"fe3","st":"dashdot","e":6.8,"v":2.3e-4},{"p":"L","c":"fe3","st":"dashdot","e":6.95,"v":1.2e-5},
      {"p":"L","c":"g1","st":"solid","e":5.9,"v":1.2e-5},{"p":"L","c":"g1","st":"solid","e":6.72,"v":5.1e-5},{"p":"L","c":"g1","st":"solid","e":6.98,"v":1.2e-5},
      {"p":"L","c":"g2","st":"solid","e":6.07,"v":1.84e-5},{"p":"L","c":"g2","st":"solid","e":6.72,"v":2.58e-5},{"p":"L","c":"g2","st":"solid","e":7.95,"v":1.84e-5},
      {"p":"R","c":"soft","st":"dash","e":0.66,"v":1.2e-5},{"p":"R","c":"soft","st":"dash","e":0.7,"v":1.7e-5},{"p":"R","c":"soft","st":"dash","e":0.75,"v":2.3e-5},{"p":"R","c":"soft","st":"dash","e":0.8,"v":3.0e-5},{"p":"R","c":"soft","st":"dash","e":0.86,"v":3.5e-5},{"p":"R","c":"soft","st":"dash","e":0.9,"v":3.2e-5},{"p":"R","c":"soft","st":"dash","e":0.95,"v":2.4e-5},{"p":"R","c":"soft","st":"dash","e":1.0,"v":1.6e-5},{"p":"R","c":"soft","st":"dash","e":1.03,"v":1.2e-5},
      {"p":"R","c":"refl","st":"dash","e":2.7,"v":1.2e-5},{"p":"R","c":"refl","st":"dash","e":3.0,"v":2.0e-5},{"p":"R","c":"refl","st":"dash","e":3.69,"v":5.5e-5},{"p":"R","c":"refl","st":"dash","e":4.67,"v":1.54e-4},{"p":"R","c":"refl","st":"dash","e":5.59,"v":2.54e-4},{"p":"R","c":"refl","st":"dash","e":6.1,"v":2.9e-4},{"p":"R","c":"refl","st":"dash","e":6.2,"v":2.4e-3},{"p":"R","c":"refl","st":"dash","e":6.3,"v":3.0e-4},{"p":"R","c":"refl","st":"dash","e":6.9,"v":3.3e-4},{"p":"R","c":"refl","st":"dash","e":7.0,"v":8e-4},{"p":"R","c":"refl","st":"dash","e":7.1,"v":2.8e-4},{"p":"R","c":"refl","st":"dash","e":7.43,"v":3.1e-4},{"p":"R","c":"refl","st":"dash","e":8.5,"v":4.3e-4},{"p":"R","c":"refl","st":"dash","e":9.62,"v":5.9e-4},{"p":"R","c":"refl","st":"dash","e":11.5,"v":7.5e-4},{"p":"R","c":"refl","st":"dash","e":14.2,"v":9.1e-4},{"p":"R","c":"refl","st":"dash","e":18.4,"v":1.08e-3},{"p":"R","c":"refl","st":"dash","e":23.8,"v":1.17e-3},{"p":"R","c":"refl","st":"dash","e":35,"v":1.3e-3},{"p":"R","c":"refl","st":"dash","e":47.5,"v":1.4e-3},
      {"p":"R","c":"trans","st":"solid","e":7.83,"v":1.2e-5},{"p":"R","c":"trans","st":"solid","e":8.3,"v":2.2e-5},{"p":"R","c":"trans","st":"solid","e":9.0,"v":3.8e-5},{"p":"R","c":"trans","st":"solid","e":9.62,"v":6.0e-5},{"p":"R","c":"trans","st":"solid","e":10.2,"v":1.0e-4},{"p":"R","c":"trans","st":"solid","e":10.9,"v":1.66e-4},{"p":"R","c":"trans","st":"solid","e":12.45,"v":3.9e-4},{"p":"R","c":"trans","st":"solid","e":14.2,"v":6.5e-4},{"p":"R","c":"trans","st":"solid","e":16.1,"v":9.5e-4},{"p":"R","c":"trans","st":"solid","e":18.4,"v":1.17e-3},{"p":"R","c":"trans","st":"solid","e":20.9,"v":1.36e-3},{"p":"R","c":"trans","st":"solid","e":27,"v":1.67e-3},{"p":"R","c":"trans","st":"solid","e":35,"v":1.91e-3},{"p":"R","c":"trans","st":"solid","e":43,"v":2.12e-3},{"p":"R","c":"trans","st":"solid","e":47.5,"v":2.18e-3},
      {"p":"R","c":"spl","st":"dashdotdot","e":2.0,"v":1.2e-5},{"p":"R","c":"spl","st":"dashdotdot","e":2.93,"v":1.4e-5},{"p":"R","c":"spl","st":"dashdotdot","e":4.43,"v":1.69e-5},{"p":"R","c":"spl","st":"dashdotdot","e":10,"v":2.0e-5},{"p":"R","c":"spl","st":"dashdotdot","e":20,"v":2.25e-5},{"p":"R","c":"spl","st":"dashdotdot","e":47.5,"v":2.56e-5},
      {"p":"R","c":"g1","st":"solid","e":5.97,"v":1.2e-5},{"p":"R","c":"g1","st":"solid","e":6.79,"v":6.0e-5},{"p":"R","c":"g1","st":"solid","e":6.96,"v":1.2e-5},
      {"p":"R","c":"g2","st":"solid","e":6.2,"v":2.6e-5},{"p":"R","c":"g2","st":"solid","e":6.79,"v":2.9e-5},{"p":"R","c":"g2","st":"solid","e":8.03,"v":2.0e-5}
    ],
    "one": [{"e":0.6,"r":1},{"e":47.5,"r":1}]
  },
  "columns": 2,
  "spacing": {"row": 0, "column": 160},
  "bounds": "flush",
  "concat": [
    {
      "title": {"text": "NGC 6552 (+archived), MyTorus decoupled free", "anchor": "middle", "frame": "group", "offset": 3, "baseline": "alphabetic", "fontSize": 19},
      "width": 564, "height": 260,
      "data": {"name": "pts"},
      "layer": [
        {"mark": {"type": "rule", "clip": true, "strokeWidth": 1.5},
         "encoding": {
           "x": {"field": "el", "type": "quantitative", "scale": {"type": "log", "domain": [0.6, 47.5], "nice": false}, "axis": {"orient": "bottom", "values": [1,2,5,10,20], "labels": false, "tickSize": -8, "title": null}},
           "x2": {"field": "eh"},
           "y": {"field": "f", "type": "quantitative", "scale": {"type": "log", "domain": [1.34e-5, 0.01], "nice": false}, "axis": {"orient": "left", "values": [0.0001, 0.001, 0.01], "tickSize": -9, "labelPadding": 27, "labelFlush": false, "labelOverlap": false, "labelExpr": "datum.value > 0.005 ? '0.01' : (datum.value > 0.0005 ? '10⁻³' : '10⁻⁴')", "title": "keV² (Photons cm⁻² s⁻¹ keV⁻¹)", "titleX": -54, "titleBaseline": "alphabetic"}},
           "color": {"field": "s", "type": "nominal", "scale": {"domain": ["R1","R2","G1","G2","B1","B2"], "range": ["#ff0000","#ff6a6a","#9a9a9a","#c4c4c4","#0000ff","#6a6aff"]}, "legend": null}
         }},
        {"mark": {"type": "rule", "clip": true, "strokeWidth": 1.5},
         "encoding": {
           "x": {"field": "e", "type": "quantitative", "axis": {"orient": "top", "values": [1,2,5,10,20], "labels": false, "tickSize": -8, "title": null}},
           "y": {"field": "fl", "type": "quantitative", "axis": {"orient": "right", "values": [0.0001, 0.001, 0.01], "labels": false, "tickSize": -9, "title": null}},
           "y2": {"field": "fh"},
           "color": {"field": "s", "type": "nominal", "legend": null}
         }},
        {"data": {"name": "comp"}, "transform": [{"filter": "datum.p == 'L'"}],
         "mark": {"type": "line", "clip": true, "strokeWidth": 1.2, "color": "#000"},
         "encoding": {
           "x": {"field": "e", "type": "quantitative", "axis": {"orient": "bottom", "values": [0.6,0.7,0.8,0.9,3,4,6,7,8,9,30,40], "labels": false, "tickSize": -5, "title": null}},
           "y": {"field": "v", "type": "quantitative", "axis": {"orient": "left", "values": [2e-5,3e-5,4e-5,5e-5,6e-5,7e-5,8e-5,9e-5,2e-4,3e-4,4e-4,5e-4,6e-4,7e-4,8e-4,9e-4,2e-3,3e-3,4e-3,5e-3,6e-3,7e-3,8e-3,9e-3], "labels": false, "tickSize": -5, "title": null}},
           "detail": {"field": "c"},
           "strokeDash": {"field": "st", "type": "nominal", "scale": {"domain": ["solid","dash","dot","dashdot","dashdotdot"], "range": [[1,0],[10,6],[1.5,5],[8,3,1.5,3],[8,3,1.5,3,1.5,3]]}, "legend": null}
         }},
        {"mark": {"type": "line", "clip": true, "interpolate": "step", "strokeWidth": 3, "color": "#00f47e", "opacity": 0.9},
         "encoding": {
           "x": {"field": "e", "type": "quantitative", "axis": {"orient": "top", "values": [0.6,0.7,0.8,0.9,3,4,6,7,8,9,30,40], "labels": false, "tickSize": -5, "title": null}},
           "y": {"field": "m", "type": "quantitative", "axis": {"orient": "right", "values": [2e-5,3e-5,4e-5,5e-5,6e-5,7e-5,8e-5,9e-5,2e-4,3e-4,4e-4,5e-4,6e-4,7e-4,8e-4,9e-4,2e-3,3e-3,4e-3,5e-3,6e-3,7e-3,8e-3,9e-3], "labels": false, "tickSize": -5, "title": null}},
           "detail": {"field": "s"}
         }}
      ],
      "resolve": {"axis": {"x": "independent", "y": "independent"}}
    },
    {
      "title": {"text": "NGC 6552 (+archived), borus02", "anchor": "middle", "frame": "group", "offset": 3, "baseline": "alphabetic", "fontSize": 19},
      "width": 564, "height": 260,
      "data": {"name": "pts"},
      "layer": [
        {"mark": {"type": "rule", "clip": true, "strokeWidth": 1.5},
         "encoding": {
           "x": {"field": "el", "type": "quantitative", "scale": {"type": "log", "domain": [0.6, 47.5], "nice": false}, "axis": {"orient": "bottom", "values": [1,2,5,10,20], "labels": false, "tickSize": -8, "title": null}},
           "x2": {"field": "eh"},
           "y": {"field": "f", "type": "quantitative", "scale": {"type": "log", "domain": [1.34e-5, 0.01], "nice": false}, "axis": {"orient": "left", "values": [0.0001, 0.001, 0.01], "tickSize": -9, "labelPadding": 27, "labelFlush": false, "labelOverlap": false, "labelExpr": "datum.value > 0.005 ? '0.01' : (datum.value > 0.0005 ? '10⁻³' : '10⁻⁴')", "title": "keV² (Photons cm⁻² s⁻¹ keV⁻¹)", "titleX": -54, "titleBaseline": "alphabetic"}},
           "color": {"field": "s", "type": "nominal", "scale": {"domain": ["R1","R2","G1","G2","B1","B2"], "range": ["#ff0000","#ff6a6a","#9a9a9a","#c4c4c4","#0000ff","#6a6aff"]}, "legend": null}
         }},
        {"mark": {"type": "rule", "clip": true, "strokeWidth": 1.5},
         "encoding": {
           "x": {"field": "e", "type": "quantitative", "axis": {"orient": "top", "values": [1,2,5,10,20], "labels": false, "tickSize": -8, "title": null}},
           "y": {"field": "fl", "type": "quantitative", "axis": {"orient": "right", "values": [0.0001, 0.001, 0.01], "labels": false, "tickSize": -9, "title": null}},
           "y2": {"field": "fh"},
           "color": {"field": "s", "type": "nominal", "legend": null}
         }},
        {"data": {"name": "comp"}, "transform": [{"filter": "datum.p == 'R'"}],
         "mark": {"type": "line", "clip": true, "strokeWidth": 1.2, "color": "#000"},
         "encoding": {
           "x": {"field": "e", "type": "quantitative", "axis": {"orient": "bottom", "values": [0.6,0.7,0.8,0.9,3,4,6,7,8,9,30,40], "labels": false, "tickSize": -5, "title": null}},
           "y": {"field": "v", "type": "quantitative", "axis": {"orient": "left", "values": [2e-5,3e-5,4e-5,5e-5,6e-5,7e-5,8e-5,9e-5,2e-4,3e-4,4e-4,5e-4,6e-4,7e-4,8e-4,9e-4,2e-3,3e-3,4e-3,5e-3,6e-3,7e-3,8e-3,9e-3], "labels": false, "tickSize": -5, "title": null}},
           "detail": {"field": "c"},
           "strokeDash": {"field": "st", "type": "nominal", "scale": {"domain": ["solid","dash","dot","dashdot","dashdotdot"], "range": [[1,0],[10,6],[1.5,5],[8,3,1.5,3],[8,3,1.5,3,1.5,3]]}, "legend": null}
         }},
        {"mark": {"type": "line", "clip": true, "interpolate": "step", "strokeWidth": 3, "color": "#00f47e", "opacity": 0.9},
         "encoding": {
           "x": {"field": "e", "type": "quantitative", "axis": {"orient": "top", "values": [0.6,0.7,0.8,0.9,3,4,6,7,8,9,30,40], "labels": false, "tickSize": -5, "title": null}},
           "y": {"field": "m", "type": "quantitative", "axis": {"orient": "right", "values": [2e-5,3e-5,4e-5,5e-5,6e-5,7e-5,8e-5,9e-5,2e-4,3e-4,4e-4,5e-4,6e-4,7e-4,8e-4,9e-4,2e-3,3e-3,4e-3,5e-3,6e-3,7e-3,8e-3,9e-3], "labels": false, "tickSize": -5, "title": null}},
           "detail": {"field": "s"}
         }}
      ],
      "resolve": {"axis": {"x": "independent", "y": "independent"}}
    },
    {
      "width": 564, "height": 157,
      "data": {"name": "pts"},
      "layer": [
        {"transform": [{"filter": "datum.s == 'B1' || datum.s == 'B2'"}],
         "mark": {"type": "rule", "clip": true, "strokeWidth": 1.5},
         "encoding": {
           "x": {"field": "el", "type": "quantitative", "scale": {"type": "log", "domain": [0.6, 47.5], "nice": false}, "axis": {"orient": "bottom", "values": [1,2,5,10,20], "labelExpr": "format(datum.value, '~g')", "tickSize": -8, "labelPadding": 16, "labelFlush": false, "labelOverlap": false, "title": "Energy (keV)", "titleY": 44, "titleBaseline": "alphabetic"}},
           "x2": {"field": "eh"},
           "y": {"field": "r", "type": "quantitative", "scale": {"domain": [0.442, 2.136], "nice": false, "zero": false}, "axis": {"orient": "left", "values": [0.5, 1, 1.5, 2], "labelExpr": "format(datum.value, '~g')", "tickSize": -8, "labelPadding": 20, "labelFlush": false, "labelOverlap": false, "title": "ratio", "titleX": -51, "titleBaseline": "alphabetic"}},
           "color": {"field": "s", "type": "nominal", "scale": {"domain": ["R1","R2","G1","G2","B1","B2"], "range": ["#ff0000","#ff6a6a","#9a9a9a","#c4c4c4","#0000ff","#6a6aff"]}, "legend": null}
         }},
        {"transform": [{"filter": "datum.s != 'B1' && datum.s != 'B2'"}],
         "mark": {"type": "rule", "clip": true, "strokeWidth": 1.5},
         "encoding": {
           "x": {"field": "el", "type": "quantitative", "axis": {"orient": "top", "values": [1,2,5,10,20], "labels": false, "tickSize": -8, "title": null}},
           "x2": {"field": "eh"},
           "y": {"field": "r", "type": "quantitative", "axis": {"orient": "right", "values": [0.5, 1, 1.5, 2], "labels": false, "tickSize": -8, "title": null}},
           "color": {"field": "s", "type": "nominal", "legend": null}
         }},
        {"mark": {"type": "rule", "clip": true, "strokeWidth": 1.5},
         "encoding": {
           "x": {"field": "e", "type": "quantitative", "axis": {"orient": "bottom", "values": [0.6,0.7,0.8,0.9,3,4,6,7,8,9,30,40], "labels": false, "tickSize": -5, "title": null}},
           "y": {"field": "rl", "type": "quantitative", "axis": {"orient": "left", "values": [0.6,0.7,0.8,0.9,1.1,1.2,1.3,1.4,1.6,1.7,1.8,1.9,2.1], "labels": false, "tickSize": -5, "title": null}},
           "y2": {"field": "rh"},
           "color": {"field": "s", "type": "nominal", "legend": null}
         }},
        {"data": {"name": "one"},
         "mark": {"type": "line", "clip": true, "strokeWidth": 1.5, "color": "#2ee02e"},
         "encoding": {
           "x": {"field": "e", "type": "quantitative", "axis": {"orient": "top", "values": [0.6,0.7,0.8,0.9,3,4,6,7,8,9,30,40], "labels": false, "tickSize": -5, "title": null}},
           "y": {"field": "r", "type": "quantitative", "axis": {"orient": "right", "values": [0.6,0.7,0.8,0.9,1.1,1.2,1.3,1.4,1.6,1.7,1.8,1.9,2.1], "labels": false, "tickSize": -5, "title": null}}
         }}
      ],
      "resolve": {"axis": {"x": "independent", "y": "independent"}}
    },
    {
      "width": 564, "height": 157,
      "data": {"name": "pts"},
      "layer": [
        {"transform": [{"filter": "datum.s == 'B1' || datum.s == 'B2'"}],
         "mark": {"type": "rule", "clip": true, "strokeWidth": 1.5},
         "encoding": {
           "x": {"field": "el", "type": "quantitative", "scale": {"type": "log", "domain": [0.6, 47.5], "nice": false}, "axis": {"orient": "bottom", "values": [1,2,5,10,20], "labelExpr": "format(datum.value, '~g')", "tickSize": -8, "labelPadding": 16, "labelFlush": false, "labelOverlap": false, "title": "Energy (keV)", "titleY": 44, "titleBaseline": "alphabetic"}},
           "x2": {"field": "eh"},
           "y": {"field": "r", "type": "quantitative", "scale": {"domain": [0.442, 2.136], "nice": false, "zero": false}, "axis": {"orient": "left", "values": [0.5, 1, 1.5, 2], "labelExpr": "format(datum.value, '~g')", "tickSize": -8, "labelPadding": 20, "labelFlush": false, "labelOverlap": false, "title": "ratio", "titleX": -51, "titleBaseline": "alphabetic"}},
           "color": {"field": "s", "type": "nominal", "scale": {"domain": ["R1","R2","G1","G2","B1","B2"], "range": ["#ff0000","#ff6a6a","#9a9a9a","#c4c4c4","#0000ff","#6a6aff"]}, "legend": null}
         }},
        {"transform": [{"filter": "datum.s != 'B1' && datum.s != 'B2'"}],
         "mark": {"type": "rule", "clip": true, "strokeWidth": 1.5},
         "encoding": {
           "x": {"field": "el", "type": "quantitative", "axis": {"orient": "top", "values": [1,2,5,10,20], "labels": false, "tickSize": -8, "title": null}},
           "x2": {"field": "eh"},
           "y": {"field": "r", "type": "quantitative", "axis": {"orient": "right", "values": [0.5, 1, 1.5, 2], "labels": false, "tickSize": -8, "title": null}},
           "color": {"field": "s", "type": "nominal", "legend": null}
         }},
        {"mark": {"type": "rule", "clip": true, "strokeWidth": 1.5},
         "encoding": {
           "x": {"field": "e", "type": "quantitative", "axis": {"orient": "bottom", "values": [0.6,0.7,0.8,0.9,3,4,6,7,8,9,30,40], "labels": false, "tickSize": -5, "title": null}},
           "y": {"field": "rl", "type": "quantitative", "axis": {"orient": "left", "values": [0.6,0.7,0.8,0.9,1.1,1.2,1.3,1.4,1.6,1.7,1.8,1.9,2.1], "labels": false, "tickSize": -5, "title": null}},
           "y2": {"field": "rh"},
           "color": {"field": "s", "type": "nominal", "legend": null}
         }},
        {"data": {"name": "one"},
         "mark": {"type": "line", "clip": true, "strokeWidth": 1.5, "color": "#2ee02e"},
         "encoding": {
           "x": {"field": "e", "type": "quantitative", "axis": {"orient": "top", "values": [0.6,0.7,0.8,0.9,3,4,6,7,8,9,30,40], "labels": false, "tickSize": -5, "title": null}},
           "y": {"field": "r", "type": "quantitative", "axis": {"orient": "right", "values": [0.6,0.7,0.8,0.9,1.1,1.2,1.3,1.4,1.6,1.7,1.8,1.9,2.1], "labels": false, "tickSize": -5, "title": null}}
         }}
      ],
      "resolve": {"axis": {"x": "independent", "y": "independent"}}
    }
  ]
}
